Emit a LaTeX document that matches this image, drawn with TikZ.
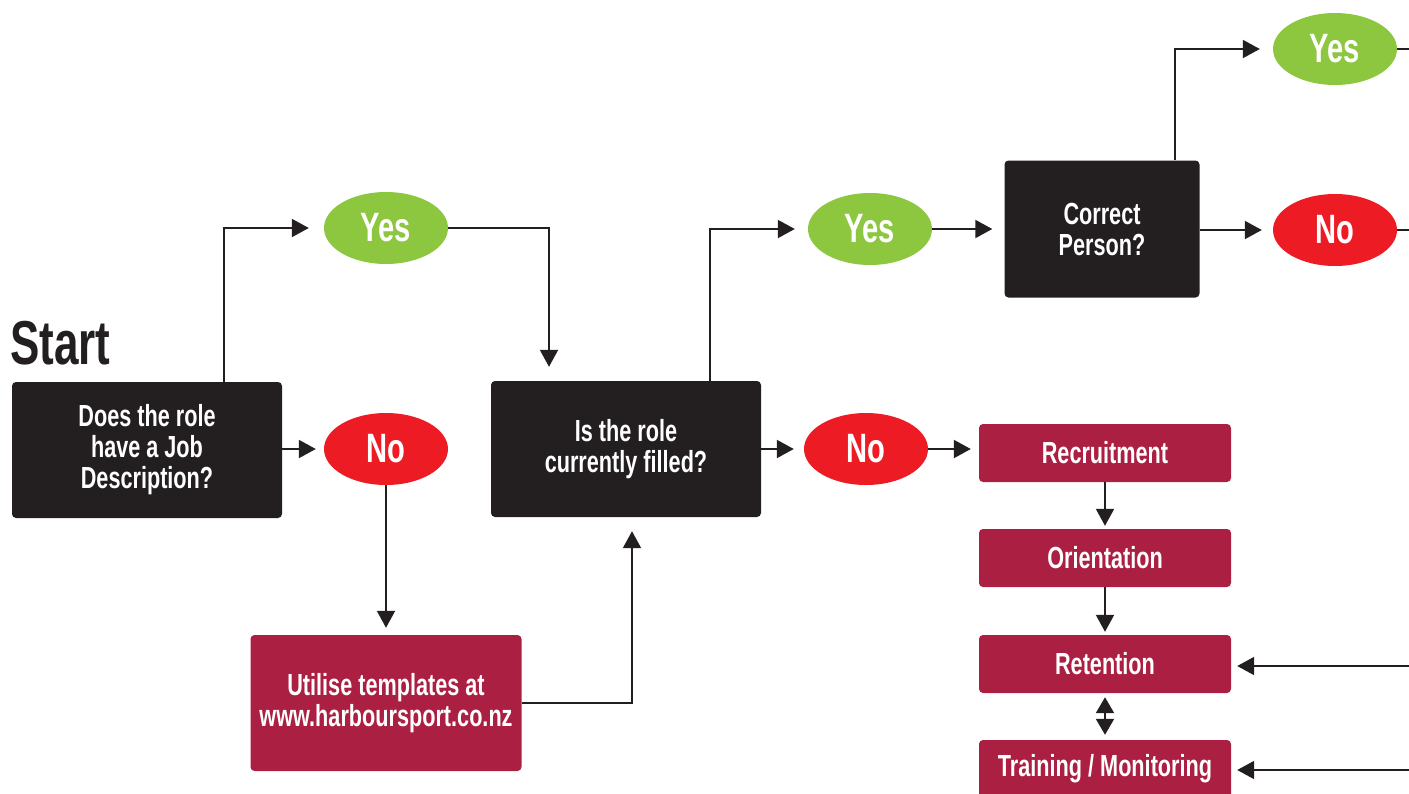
\documentclass[tikz,border=0pt]{standalone}
\usepackage{fontspec}
\setmainfont{Liberation Sans}[FakeStretch=0.71]
\usetikzlibrary{arrows.meta,calc,shapes.geometric}
\definecolor{boxblack}{HTML}{231F20}
\definecolor{okgreen}{HTML}{8DC63F}
\definecolor{nored}{HTML}{ED1C24}
\definecolor{crimson}{HTML}{AB1F42}
\tikzset{
  qbox/.style={fill=boxblack, rounded corners=4pt, text=white, align=center,
    font=\bfseries\fontsize{30.5}{31}\selectfont, inner sep=0pt},
  cbox/.style={fill=crimson, rounded corners=4pt, text=white, align=center,
    font=\bfseries\fontsize{30.5}{31}\selectfont, inner sep=0pt},
  yesnode/.style={ellipse, fill=okgreen, text=white, minimum width=124pt, minimum height=72pt,
    font=\bfseries\fontsize{41}{41}\selectfont, inner sep=0pt},
  nonode/.style={ellipse, fill=nored, text=white, minimum width=124pt, minimum height=72pt,
    font=\bfseries\fontsize{41}{41}\selectfont, inner sep=0pt},
  arr/.style={line width=2pt, draw=boxblack, -{Triangle[length=17pt,width=18pt]}, shorten >=12pt},
  plain/.style={line width=2pt, draw=boxblack},
}
\begin{document}
\begin{tikzpicture}[x=1pt,y=-1pt]
\useasboundingbox (0,0) rectangle (1409,793);
\clip (0,0) rectangle (1409,793);

\node[anchor=base west, font=\bfseries\fontsize{62}{62}\selectfont, text=boxblack, inner sep=0pt] (start) at (10,364) {Start};

\node[qbox, minimum width=270pt, minimum height=136pt] (jd) at (147,450) {Does the role\\have a Job\\Description?};
\node[yesnode] (yes1) at (386,228) {Yes};
\node[nonode] (no1) at (386,449) {No};
\node[qbox, minimum width=270pt, minimum height=136pt] (filled) at (626,449) {Is the role\\currently filled?};
\node[cbox, minimum width=271pt, minimum height=136pt] (util) at (386,703) {Utilise templates at\\www.harboursport.co.nz};
\node[yesnode] (yes2) at (870,229) {Yes};
\node[nonode] (no2) at (866,449) {No};
\node[qbox, minimum width=195pt, minimum height=137pt] (correct) at (1102,229) {Correct\\Person?};
\node[yesnode] (yes3) at (1335,49) {Yes};
\node[nonode] (no3) at (1335,230) {No};

\node[cbox, minimum width=252pt, minimum height=58pt] (recr) at (1105,453) {Recruitment};
\node[cbox, minimum width=252pt, minimum height=58pt] (orient) at (1105,558) {Orientation};
\node[cbox, minimum width=252pt, minimum height=58pt] (ret) at (1105,664) {Retention};
\node[cbox, minimum width=252pt, minimum height=58pt] (train) at (1105,769) {Training / Monitoring};

\coordinate (edgeY) at (1420,49);
\coordinate (edgeN) at (1420,230);
\coordinate (edgeR) at (1420,666);
\coordinate (edgeT) at (1420,770);

% connectors
\draw[arr, shorten >=15pt] ([xshift=77pt]jd.north) |- (yes1);
\draw[arr, shorten >=8pt] (jd.east |- no1) -- (no1);
\draw[arr, shorten >=14pt] (yes1) -| ([xshift=-77pt]filled.north);
\draw[arr, shorten >=7pt] (no1) -- (util);
\draw[arr, shorten >=14pt] (util) -| ([xshift=6pt]filled.south);
\draw[arr, shorten >=13pt] ([xshift=84pt]filled.north) |- (yes2);
\draw[arr, shorten >=10pt] (filled.east |- no2) -- (no2);
\draw[arr, shorten >=12pt] (yes2) -- (correct.west |- yes2);
\draw[arr, shorten >=8pt] (no2) -- (recr.west |- no2);
\draw[arr, shorten >=13pt] ([xshift=73pt]correct.north) |- (yes3.west);
\draw[arr, shorten >=11pt] (correct.east |- no3) -- (no3);
\draw[plain] (yes3.east) -- (edgeY);
\draw[plain] (no3.east) -- (edgeN);
\draw[arr, shorten >=3pt] (recr) -- (orient);
\draw[arr, shorten >=3pt] (orient) -- (ret);
\draw[line width=2pt, draw=boxblack, {Triangle[length=16pt,width=18pt]}-{Triangle[length=16pt,width=18pt]}, shorten >=5pt, shorten <=4pt] (ret) -- (train);
\draw[arr, shorten >=6pt] (edgeR) -- (ret.east |- edgeR);
\draw[arr, shorten >=6pt] (edgeT) -- (train.east |- edgeT);
\end{tikzpicture}
\end{document}
